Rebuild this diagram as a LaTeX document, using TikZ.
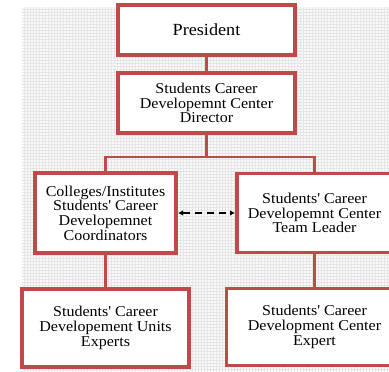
\documentclass[tikz,border=0pt]{standalone}
\usepackage{fontspec}
\setmainfont[FakeStretch=1.07]{Liberation Serif}
\usetikzlibrary{positioning,shadows,arrows.meta}
\definecolor{boxred}{RGB}{190,75,72}
\newcommand{\apos}{\textquotesingle}
\tikzset{
  unit/.style={draw=boxred, line width=3.1pt, fill=white, align=center,
    inner sep=2pt, outer sep=0pt,
    font=\fontsize{15pt}{14.7pt}\selectfont,
    drop shadow={shadow xshift=1.6pt, shadow yshift=-1.6pt, fill=black!40, opacity=.6}},
  link/.style={draw=boxred, line width=2.2pt},
  peer/.style={line width=2pt, dash pattern=on 7.5pt off 4.5pt,
    {Latex[length=5pt,width=5.5pt]}-{Latex[length=5pt,width=5.5pt]}, shorten <=2pt, shorten >=2pt}
}

\begin{document}
\begin{tikzpicture}

  \useasboundingbox (0pt,0pt) rectangle (389pt,372pt);
  % grid paper
  \fill[black!2] (22pt,0pt) rectangle (389pt,365pt);
  \draw[black!10, line width=0.4pt, step=3pt] (22pt,0pt) grid (389pt,365pt);

  % Define nodes
  \node[unit, minimum width=177pt, minimum height=50pt, font=\fontsize{17pt}{17pt}\selectfont] at (206.5pt,342pt) (pres) {President};
  \node[unit, minimum width=177pt, minimum height=60pt, below=18pt of pres] (dir)
    {Students Career\\Developemnt Center\\Director};
  \node[unit, minimum width=141pt, minimum height=80pt] at (105.5pt,159pt) (coord)
    {Colleges/Institutes\\Students\apos{} Career\\Developemnet\\Coordinators};
  \node[unit, minimum width=155pt, minimum height=79pt, right=61pt of coord] (lead)
    {Students\apos{} Career\\Developemnt Center\\Team Leader};
  \node[unit, minimum width=167pt, minimum height=78pt, below=36pt of coord] (units)
    {Students\apos{} Career\\Developement Units\\Experts};
  \node[unit, minimum width=176pt, minimum height=77pt, below=36pt of lead] (expert)
    {Students\apos{} Career\\Development Center\\Expert};
  \coordinate[below=24pt of dir] (split);

  % Connect the nodes
  \draw[link] (pres) -- (dir);
  \draw[link] (dir) -- (split);
  \draw[link] (coord.north) |- (split) -| (lead.north);
  \draw[link] (coord) -- (units);
  \draw[link] (lead) -- (expert);
  \draw[peer] (coord) -- (lead);

\end{tikzpicture}
\end{document}
